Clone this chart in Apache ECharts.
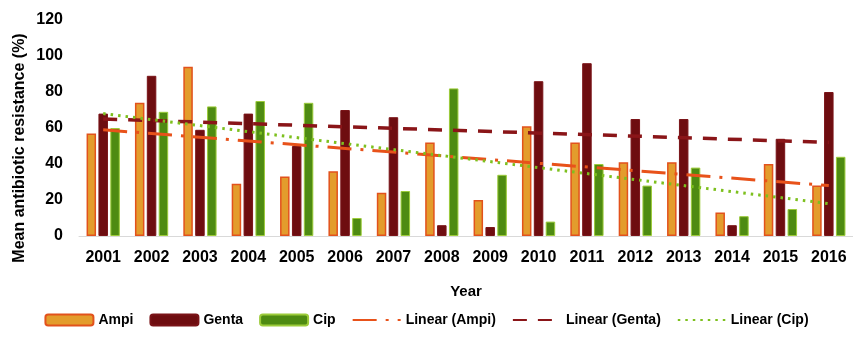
<!DOCTYPE html>
<html><head><meta charset="utf-8">
<script src="https://cdn.jsdelivr.net/npm/echarts@6/dist/echarts.min.js"></script>
<style>html,body{margin:0;padding:0;background:#fff}#c{width:853px;height:345px}</style>
</head><body><div id="c"></div>
<script>
const years = ['2001','2002','2003','2004','2005','2006','2007','2008','2009','2010','2011','2012','2013','2014','2015','2016'];
const ampi  = [57, 74, 94, 29, 33, 36, 24, 52, 20, 61, 52, 41, 41, 13, 40, 28];
const genta = [68, 89, 59, 68, 50, 70, 66, 6, 5, 86, 96, 65, 65, 6, 54, 80];
const cip   = [60, 69, 72, 75, 74, 10, 25, 82, 34, 8, 40, 28, 38, 11, 15, 44];
// linear trend lines, start (2001) and end (2016) values
const trendAmpi  = [59, 28];
const trendGenta = [65, 52];
const trendCip   = [68, 18];
const yTicks = [0, 20, 40, 60, 80, 100, 120];

const FONT = '"Liberation Sans", Arial, sans-serif';
const chart = echarts.init(document.getElementById('c'));
function trend(v){ return [[0, v[0]], [years.length-1, v[1]]]; }
function trendSeries(name, v, color, width, type){
  return {name:name, type:'line', data:trend(v), symbol:'none', z:5,
    itemStyle:{color:color, opacity:0},
    lineStyle:{color:color, width:width, type:type}};
}
chart.setOption({
  animation:false,
  textStyle:{fontFamily:FONT},
  grid:{left:79, right:0, top:20, bottom:109},
  legend:{
    bottom:13, left:'center', itemWidth:48, itemHeight:11, itemGap:16,
    textStyle:{fontFamily:FONT, fontWeight:'bold', fontSize:14, color:'#000'},
    data:['Ampi','Genta','Cip','Linear (Ampi)','Linear (Genta)','Linear (Cip)']
  },
  graphic:[{
    type:'text', x:20, y:148, rotation:Math.PI/2,
    style:{text:'Mean antibiotic resistance (%)', fontFamily:FONT, fontWeight:'bold',
      fontSize:16, fill:'#000', align:'center', verticalAlign:'middle'}
  }],
  xAxis:{
    type:'category', data:years,
    name:'Year', nameLocation:'middle', nameGap:48,
    nameTextStyle:{fontFamily:FONT, fontWeight:'bold', fontSize:15, color:'#000'},
    axisLine:{lineStyle:{color:'#d9d9d9', width:1}},
    axisTick:{show:false},
    axisLabel:{fontFamily:FONT, fontWeight:'bold', fontSize:16, color:'#000', margin:14}
  },
  yAxis:{
    type:'value', min:0, max:120, interval:20,
    axisLine:{show:false}, axisTick:{show:false}, splitLine:{show:false},
    axisLabel:{fontFamily:FONT, fontWeight:'bold', fontSize:16, color:'#000', margin:16,
      formatter:function(v){return yTicks.indexOf(v)>=0? String(v):'';}}
  },
  series:[
    {name:'Ampi', type:'bar', data:ampi, barWidth:9.5, barGap:'25%',
      itemStyle:{color:'#E39C2C', borderColor:'#E2521C', borderWidth:1.5}},
    {name:'Genta', type:'bar', data:genta, barWidth:9.5, barGap:'25%',
      itemStyle:{color:'#6E0D10', borderColor:'#7A1418', borderWidth:1}},
    {name:'Cip', type:'bar', data:cip, barWidth:9.5, barGap:'25%',
      itemStyle:{color:'#4E8B12', borderColor:'#9CCB3A', borderWidth:1}},
    trendSeries('Linear (Ampi)', trendAmpi, '#E8521A', 3, [24,9,3,9]),
    trendSeries('Linear (Genta)', trendGenta, '#8A1518', 3.5, [14,11]),
    trendSeries('Linear (Cip)', trendCip, '#7DC01E', 3, [2.5,5])
  ]
});
</script></body></html>
